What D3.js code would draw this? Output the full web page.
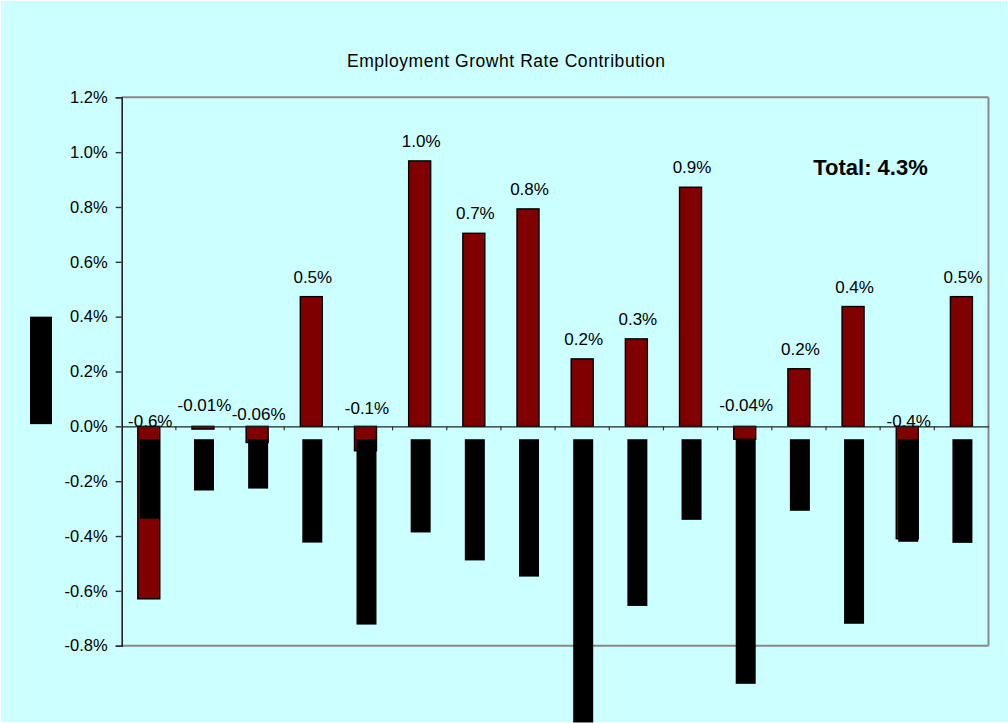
<!DOCTYPE html>
<html>
<head>
<meta charset="utf-8">
<script src="https://cdn.jsdelivr.net/npm/d3@7"></script>
<style>
  body { margin: 0; background: #fff; }
  text { font-family: "Liberation Sans", Arial, sans-serif; fill: #000; }
</style>
</head>
<body>
<div id="chart"></div>
<script>
// Data
const categories = d3.range(1, 17)
const contribution = [-0.629, -0.01, -0.059, 0.473, -0.089, 0.968, 0.704, 0.793,
  0.246, 0.319, 0.872, -0.047, 0.210, 0.437, -0.41, 0.473]
const valueLabels = ["-0.6%", "-0.01%", "-0.06%", "0.5%", "-0.1%", "1.0%", "0.7%", "0.8%",
  "0.2%", "0.3%", "0.9%", "-0.04%", "0.2%", "0.4%", "-0.4%", "0.5%"]
const offsetStart = -0.047
const offsetEnd = [-0.337, -0.234, -0.227, -0.424, -0.723, -0.387, -0.489, -0.548,
  -1.08, -0.655, -0.341, -0.939, -0.308, -0.72, -0.421, -0.425]
const yTicks = [-0.8, -0.6, -0.4, -0.2, 0, 0.2, 0.4, 0.6, 0.8, 1.0, 1.2]
const totalLabel = "Total: 4.3%"

// Layout
const width = 1008
const height = 723
const plot = { left: 121.7, right: 988.5, top: 97.3, bottom: 645.7 }
// label lift for the negative bars (px relative to zero line)
const negLabelDy = { 0: 1, 1: -15.5, 2: -6, 4: -12.5, 11: -15.5, 14: 1 }

const svg = d3.select("#chart")
  .append("svg")
  .attr("width", width)
  .attr("height", height)

svg.append("rect")
  .attr("x", 1).attr("y", 1)
  .attr("width", width - 2).attr("height", height - 2)
  .attr("fill", "#ccffff")

// Scales
const xScale = d3.scaleBand()
  .domain(categories)
  .range([plot.left, plot.right])
  .padding(0)

const yScale = d3.scaleLinear()
  .domain([-0.8, 1.2])
  .range([plot.bottom, plot.top])

const cx = i => xScale(categories[i]) + xScale.bandwidth() / 2

// Title
svg.append("text")
  .attr("x", 506)
  .attr("y", 67)
  .attr("text-anchor", "middle")
  .attr("font-size", 17.5)
  .attr("textLength", 318)
  .attr("lengthAdjust", "spacing")
  .text("Employment Growht Rate Contribution")

// frame (top, right, bottom in grey)
const frame = svg.append("g")
  .attr("stroke", "#888")
  .attr("stroke-width", 2)
frame.append("line")
  .attr("x1", plot.left).attr("x2", plot.right)
  .attr("y1", plot.top).attr("y2", plot.top)
frame.append("line")
  .attr("x1", plot.right).attr("x2", plot.right)
  .attr("y1", plot.top).attr("y2", plot.bottom)
frame.append("line")
  .attr("x1", plot.left).attr("x2", plot.right)
  .attr("y1", plot.bottom).attr("y2", plot.bottom)

// Red bars
const redW = 22
svg.append("g")
  .selectAll("rect")
  .data(contribution)
  .join("rect")
    .attr("x", (d, i) => cx(i) - redW / 2)
    .attr("y", d => yScale(Math.max(0, d)))
    .attr("width", redW)
    .attr("height", d => Math.abs(yScale(d) - yScale(0)))
    .attr("fill", "#800000")
    .attr("stroke", "#000")
    .attr("stroke-width", 1.4)

// Black offset bars
const blackW = 20
svg.append("g")
  .selectAll("rect")
  .data(offsetEnd)
  .join("rect")
    .attr("x", (d, i) => cx(i) - blackW / 2 + 1)
    .attr("y", yScale(offsetStart))
    .attr("width", blackW)
    .attr("height", d => yScale(d) - yScale(offsetStart))
    .attr("fill", "#000")

// stray black block at left
svg.append("rect")
  .attr("x", 30)
  .attr("y", yScale(0.4))
  .attr("width", 22)
  .attr("height", yScale(0.008) - yScale(0.4))
  .attr("fill", "#000")

// Y axis
const yAxis = svg.append("g")
  .attr("transform", `translate(${plot.left},0)`)
  .call(d3.axisLeft(yScale)
    .tickValues(yTicks)
    .tickSize(6)
    .tickPadding(8)
    .tickFormat(d => d3.format(".1f")(d).replace("\u2212", "-") + "%"))
yAxis.select(".domain").attr("stroke", "#222").attr("stroke-width", 1.6)
yAxis.selectAll(".tick line").attr("stroke", "#333").attr("stroke-width", 1.4)
yAxis.selectAll(".tick text")
  .attr("font-size", 16.5)
  .attr("font-family", "Liberation Sans, Arial, sans-serif")
  .attr("fill", "#000")

// zero line with category ticks
const zero = svg.append("g")
  .attr("transform", `translate(0,${yScale(0)})`)
  .call(d3.axisBottom(xScale)
    .tickValues([])
    .tickSizeOuter(0))
zero.select(".domain").attr("stroke", "#222").attr("stroke-width", 1.4)
zero.selectAll("line.cat")
  .data(categories.slice(1))
  .join("line")
    .attr("class", "cat")
    .attr("x1", d => xScale(d)).attr("x2", d => xScale(d))
    .attr("y1", 0).attr("y2", 4)
    .attr("stroke", "#333")
    .attr("stroke-width", 1.2)

// Value labels
svg.append("g")
  .selectAll("text")
  .data(contribution)
  .join("text")
    .attr("x", (d, i) => cx(i) + 1.5)
    .attr("y", (d, i) => d >= 0
      ? yScale(d) - 14
      : yScale(0) + (negLabelDy[i] || 0))
    .attr("text-anchor", "middle")
    .attr("font-size", 17)
    .text((d, i) => valueLabels[i])

// Total
svg.append("text")
  .attr("x", 870.5)
  .attr("y", 174.5)
  .attr("text-anchor", "middle")
  .attr("font-size", 22)
  .attr("font-weight", "bold")
  .text(totalLabel)
</script>
</body>
</html>
